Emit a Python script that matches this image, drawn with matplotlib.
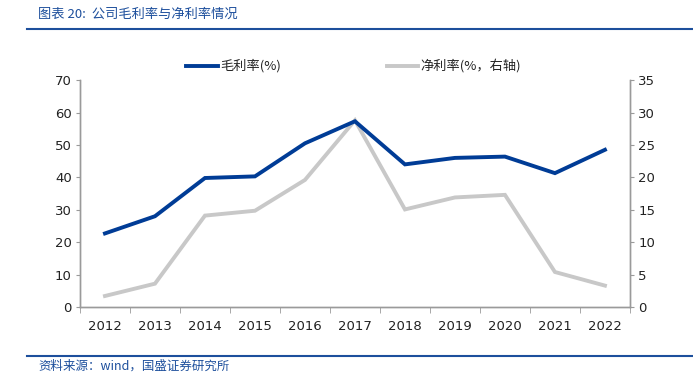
import matplotlib.pyplot as plt
from matplotlib.lines import Line2D

plt.rcParams['font.family'] = ['DejaVu Sans', 'Noto Sans CJK SC']

years = ['2012', '2013', '2014', '2015', '2016', '2017',
         '2018', '2019', '2020', '2021', '2022']
gross_margin = [22.7, 28.0, 39.8, 40.3, 50.5, 57.3, 44.0, 46.0, 46.4, 41.3, 48.5]
net_margin = [1.7, 3.6, 14.1, 14.85, 19.6, 28.8, 15.05, 16.9, 17.3, 5.4, 3.3]

blue = "#003c96"
grey = "#c8c8c8"
spine = "#9a9a9a"
title_blue = "#1d4f9c"
cjk = ['Noto Sans CJK SC', 'DejaVu Sans']


def draw_chart():
    fig = plt.figure(figsize=(6.93, 3.87), dpi=100)
    ax = fig.add_axes([0.1154, 0.2067, 0.7936, 0.5863])
    ax2 = ax.twinx()

    x = list(range(len(years)))
    ax.plot(x, gross_margin, color=blue, lw=2.8, solid_joinstyle='miter', zorder=3)
    ax2.plot(x, net_margin, color=grey, lw=2.8, solid_joinstyle='miter', zorder=2)
    ax.set_zorder(ax2.get_zorder() + 1)
    ax.patch.set_visible(False)

    ax.set_xlim(-0.5, len(years) - 0.5)
    ax.set_ylim(0, 70)
    ax2.set_ylim(0, 35)
    ax.set_yticks(range(0, 71, 10))
    ax2.set_yticks(range(0, 36, 5))

    ax.set_xticks(x)
    ax.set_xticklabels(years)
    ax.set_xticks([i - 0.5 for i in range(len(years) + 1)], minor=True)
    ax.tick_params(axis='x', which='major', length=0, pad=9, labelsize=9.5, colors='#222222')
    ax.tick_params(axis='x', which='minor', length=4, direction='out', color=spine)
    ax.tick_params(axis='y', length=3, color=spine, labelsize=9.5, labelcolor='#222222', pad=3)
    ax2.tick_params(axis='y', length=3, color=spine, labelsize=9.5, labelcolor='#222222', pad=3)

    for a in (ax, ax2):
        a.spines['top'].set_visible(False)
        for s in ('left', 'right', 'bottom'):
            a.spines[s].set_color(spine)
            a.spines[s].set_linewidth(1.0)

    # legend drawn manually to match placement
    fig.lines.append(Line2D([186 / 693, 218 / 693], [1 - 66 / 387] * 2,
                            color=blue, lw=2.8, transform=fig.transFigure))
    fig.text(220 / 693, 1 - 66 / 387, '毛利率(%)', fontsize=9.5, va='center',
             family=cjk, color='#222222')
    fig.lines.append(Line2D([387 / 693, 418 / 693], [1 - 66 / 387] * 2,
                            color=grey, lw=2.8, transform=fig.transFigure))
    fig.text(420 / 693, 1 - 66 / 387, '净利率(%，右轴)', fontsize=9.5, va='center',
             family=cjk, color='#222222')

    # header and footer
    fig.text(38 / 693, 1 - 14 / 387, '图表 20:  公司毛利率与净利率情况', fontsize=9.5,
             va='center', family=cjk, color=title_blue, style='italic')
    fig.lines.append(Line2D([27 / 693, 1.0], [1 - 28.5 / 387] * 2,
                            color=title_blue, lw=1.5, transform=fig.transFigure))
    fig.lines.append(Line2D([27 / 693, 1.0], [1 - 356 / 387] * 2,
                            color=title_blue, lw=1.5, transform=fig.transFigure))
    fig.text(38 / 693, 1 - 366 / 387, '资料来源：wind，国盛证券研究所', fontsize=9,
             va='center', family=cjk, color=title_blue, style='italic')

    fig.savefig('out.png', dpi=100)


if __name__ == "__main__":
    draw_chart()
